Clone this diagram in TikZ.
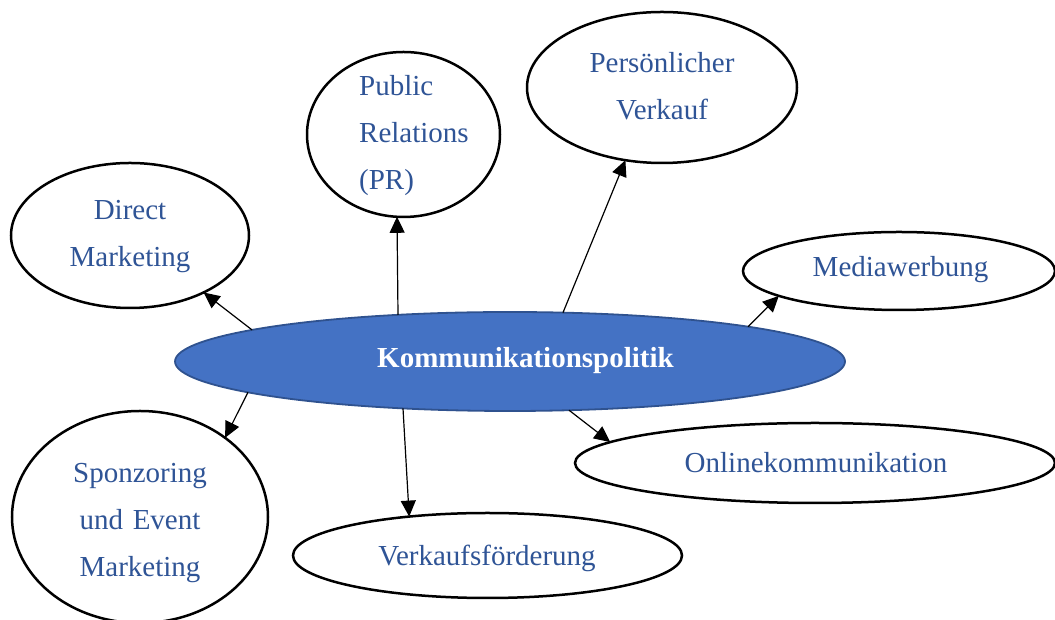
\documentclass[tikz,border=0pt]{standalone}
\usepackage{fontspec}
\setmainfont{Liberation Serif}
\usetikzlibrary{shapes.geometric,arrows.meta,calc}
\definecolor{txtblue}{HTML}{2F5496}
\definecolor{fillblue}{HTML}{4472C4}
\definecolor{edgeblue}{HTML}{2F528F}
\tikzset{
  bubble/.style={ellipse, draw=black, line width=2.5pt, fill=white, inner sep=0pt},
  hub/.style={ellipse, draw=edgeblue, line width=1.8pt, fill=fillblue, inner sep=0pt},
  lbl/.style={font=\fontsize{29}{47}\selectfont, text=txtblue, inner sep=0pt, align=center},
  conn/.style={line width=1.2pt, -{Triangle[length=16pt,width=15pt]}}
}
\begin{document}
\begin{tikzpicture}[x=1pt,y=1pt]
\useasboundingbox (0,0) rectangle (1055,620);
\clip (0,0) rectangle (1055,620);
% outer bubbles
\node[bubble, minimum width=238, minimum height=145] (dm) at (130,384.5) {};
\node[bubble, minimum width=193, minimum height=165] (pr) at (403.5,485.5) {};
\node[bubble, minimum width=270, minimum height=151] (pv) at (662,532.5) {};
\node[bubble, minimum width=312, minimum height=78] (mw) at (899,349) {};
\node[bubble, minimum width=480, minimum height=80] (ok) at (815,157) {};
\node[bubble, minimum width=389, minimum height=85] (vf) at (487.5,64.5) {};
\node[bubble, minimum width=256, minimum height=212] (sp) at (140,103) {};
% hub
\node[hub, minimum width=670, minimum height=99] (k) at (510,258.5) {};
% labels
\node[lbl, text width=200pt, anchor=base] (dmt) at (130,400) {Direct\\Marketing};
\node[lbl, text width=150pt, align=left, anchor=base west] (prt) at (359,524) {Public\\Relations\\(PR)};
\node[lbl, text width=220pt, anchor=base] (pvt) at (662,547) {Persönlicher\\Verkauf};
\node[lbl, anchor=base] (mwt) at (900.5,343) {Mediawerbung};
\node[lbl, anchor=base] (okt) at (816,147) {Onlinekommunikation};
\node[lbl, anchor=base] (vft) at (487,54) {Verkaufsförderung};
\node[lbl, text width=200pt, anchor=base] (spt) at (140,137) {Sponzoring\\und Event\\Marketing};
\node[lbl, text=white, font=\fontsize{29}{47}\selectfont\bfseries, anchor=base] (kt) at (525.5,252) {Kommunikationspolitik};
% connectors
\draw[conn] ($(k)+(-258,31.6)$) -- ($(dm)+(73.6,-57)$);
\draw[conn] ($(k)+(-112,46.6)$) -- ($(pr)+(-6.5,-82.3)$);
\draw[conn] ($(k)+(53,48.9)$) -- ($(pv)+(-36.6,-72.7)$);
\draw[conn] ($(k)+(238,34.8)$) -- ($(mw)+(-120.2,-24.9)$);
\draw[conn] ($(k)+(59,-48.7)$) -- ($(ok)+(-204.8,20.9)$);
\draw[conn] ($(k)+(-107,-46.9)$) -- ($(vf)+(-78.3,38.9)$);
\draw[conn] ($(k)+(-262,-30.8)$) -- ($(sp)+(85.1,79.2)$);
\end{tikzpicture}
\end{document}
